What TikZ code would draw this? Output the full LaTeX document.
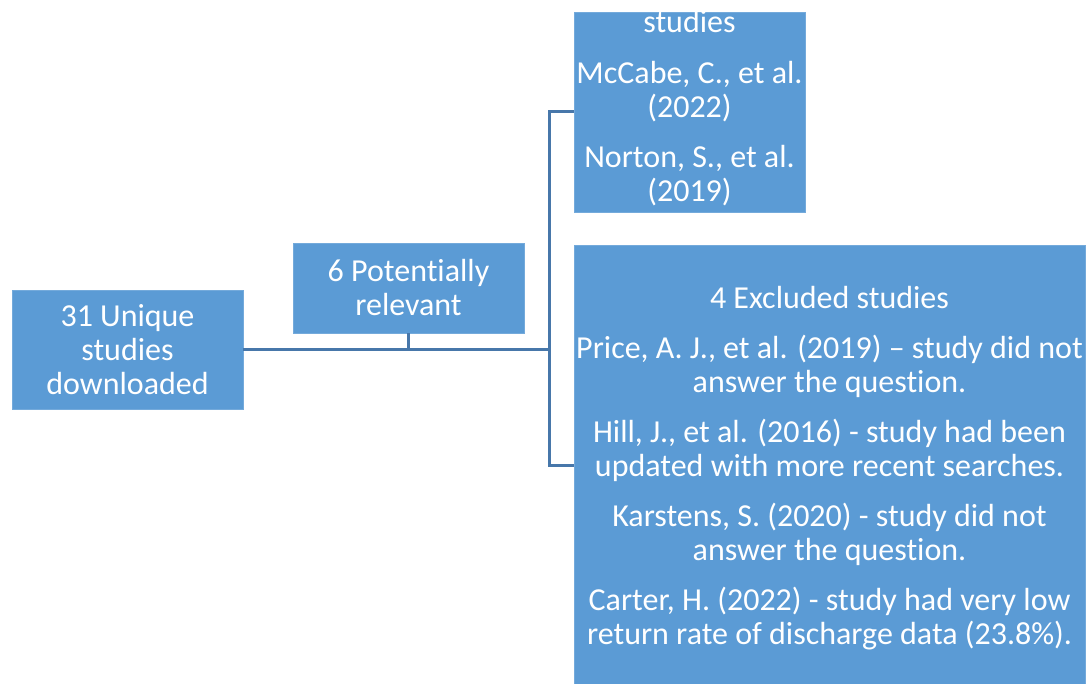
\documentclass[tikz,border=0pt]{standalone}
\usepackage{fontspec}
\setmainfont[Ligatures={TeX,NoCommon}]{Carlito}
\definecolor{boxblue}{HTML}{5B9BD5}
\definecolor{lineblue}{RGB}{71,119,170}
\tikzset{
  box/.style={rectangle, fill=boxblue, draw=boxblue!85!white, line width=0.8pt, inner sep=0pt, text=white, align=center, font=\fontsize{32}{34}\selectfont},
  txt/.style={inner sep=0pt, text=white, align=center, font=\fontsize{32}{34}\selectfont},
  conn/.style={draw=lineblue, line width=3pt}
}
\begin{document}
\begin{tikzpicture}[x=1pt,y=-1pt]
\useasboundingbox (0,0) rectangle (1087,684);
% boxes
\node[box, minimum width=231pt, minimum height=119pt] (b31) at (127.5,349.5) {31 Unique\\studies\\downloaded};
\node[box, minimum width=231pt, minimum height=90pt] (pr) at (408.5,288) {6 Potentially\\relevant};
\node[box, minimum width=231pt, minimum height=200pt] (inc) at (689.5,112) {};
\node[txt] (inctext) at (689.5,108.5) {studies\\[17pt]McCabe, C., et al.\\(2022)\\[16pt]Norton, S., et al.\\(2019)};
\node[box, minimum width=511pt, minimum height=440pt] (exc) at (829.5,465) {};
\node[txt] (exctext) at (829.5,468.5) {4 Excluded studies\\[16pt]Price, A. J., et al. (2019) -- study did not\\answer the question.\\[16pt]Hill, J., et al. (2016) - study had been\\updated with more recent searches.\\[16pt]Karstens, S. (2020) - study did not\\answer the question.\\[16pt]Carter, H. (2022) - study had very low\\return rate of discharge data (23.8\%).};
% connectors
\coordinate (j) at (549,350);
\draw[conn] (b31.east |- j) -- (j);
\draw[conn] (pr.south) -- (pr.south |- j);
\draw[conn] (inc.west) -| (j);
\draw[conn] (j) |- (exc.west);
\end{tikzpicture}
\end{document}
